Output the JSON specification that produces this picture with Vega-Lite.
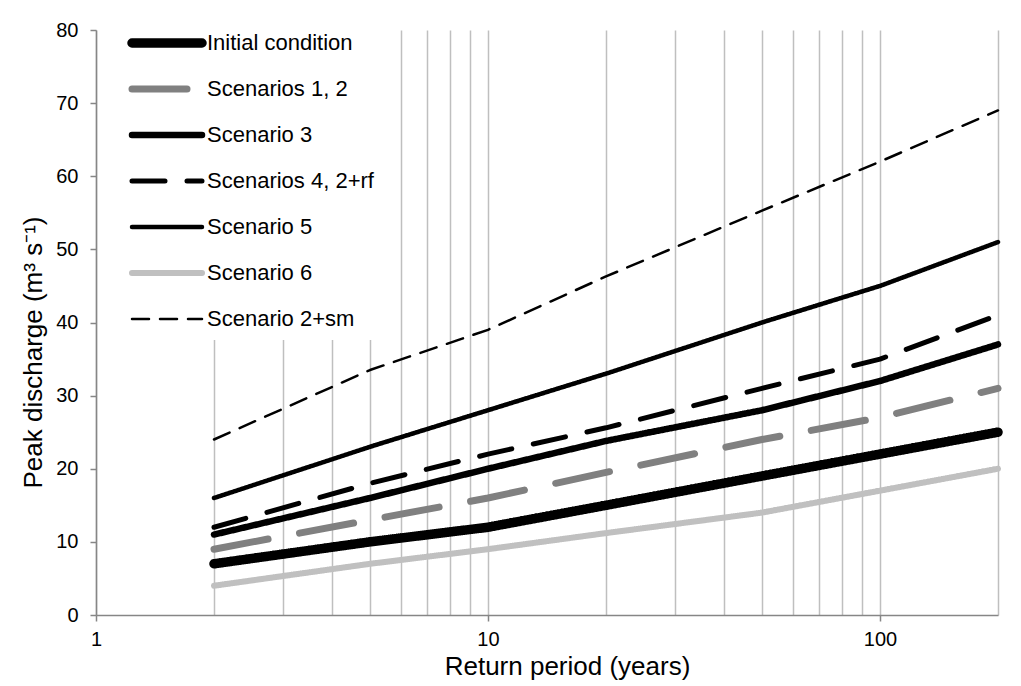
{
  "$schema": "https://vega.github.io/schema/vega-lite/v6.json",
  "width": 902,
  "height": 585,
  "autosize": {"type": "none"},
  "padding": {"left": 96, "top": 30, "right": 23, "bottom": 71},
  "background": "white",
  "config": {"view": {"stroke": null}, "font": "Liberation Sans"},
  "data": {
    "values": [
      {"series": "Initial condition", "T": 2, "Q": 7},
      {"series": "Initial condition", "T": 5, "Q": 10},
      {"series": "Initial condition", "T": 10, "Q": 12},
      {"series": "Initial condition", "T": 20, "Q": 15},
      {"series": "Initial condition", "T": 50, "Q": 19},
      {"series": "Initial condition", "T": 100, "Q": 22},
      {"series": "Initial condition", "T": 200, "Q": 25},
      {"series": "Scenarios 1, 2", "T": 2, "Q": 9},
      {"series": "Scenarios 1, 2", "T": 5, "Q": 13},
      {"series": "Scenarios 1, 2", "T": 10, "Q": 16},
      {"series": "Scenarios 1, 2", "T": 20, "Q": 19.5},
      {"series": "Scenarios 1, 2", "T": 50, "Q": 24},
      {"series": "Scenarios 1, 2", "T": 100, "Q": 27},
      {"series": "Scenarios 1, 2", "T": 200, "Q": 31},
      {"series": "Scenario 3", "T": 2, "Q": 11},
      {"series": "Scenario 3", "T": 5, "Q": 16},
      {"series": "Scenario 3", "T": 10, "Q": 20},
      {"series": "Scenario 3", "T": 20, "Q": 23.8},
      {"series": "Scenario 3", "T": 50, "Q": 28},
      {"series": "Scenario 3", "T": 100, "Q": 32},
      {"series": "Scenario 3", "T": 200, "Q": 37},
      {"series": "Scenarios 4, 2+rf", "T": 2, "Q": 12},
      {"series": "Scenarios 4, 2+rf", "T": 5, "Q": 18},
      {"series": "Scenarios 4, 2+rf", "T": 10, "Q": 22},
      {"series": "Scenarios 4, 2+rf", "T": 20, "Q": 25.6},
      {"series": "Scenarios 4, 2+rf", "T": 50, "Q": 31},
      {"series": "Scenarios 4, 2+rf", "T": 100, "Q": 35},
      {"series": "Scenarios 4, 2+rf", "T": 200, "Q": 41},
      {"series": "Scenario 5", "T": 2, "Q": 16},
      {"series": "Scenario 5", "T": 5, "Q": 23},
      {"series": "Scenario 5", "T": 10, "Q": 28},
      {"series": "Scenario 5", "T": 20, "Q": 33},
      {"series": "Scenario 5", "T": 50, "Q": 40},
      {"series": "Scenario 5", "T": 100, "Q": 45},
      {"series": "Scenario 5", "T": 200, "Q": 51},
      {"series": "Scenario 6", "T": 2, "Q": 4},
      {"series": "Scenario 6", "T": 5, "Q": 7},
      {"series": "Scenario 6", "T": 10, "Q": 9},
      {"series": "Scenario 6", "T": 20, "Q": 11.2},
      {"series": "Scenario 6", "T": 50, "Q": 14},
      {"series": "Scenario 6", "T": 100, "Q": 17},
      {"series": "Scenario 6", "T": 200, "Q": 20},
      {"series": "Scenario 2+sm", "T": 2, "Q": 24},
      {"series": "Scenario 2+sm", "T": 5, "Q": 33.5},
      {"series": "Scenario 2+sm", "T": 10, "Q": 39},
      {"series": "Scenario 2+sm", "T": 20, "Q": 46.3},
      {"series": "Scenario 2+sm", "T": 50, "Q": 55.3},
      {"series": "Scenario 2+sm", "T": 100, "Q": 62},
      {"series": "Scenario 2+sm", "T": 200, "Q": 69}
    ]
  },
  "mark": {"type": "line", "strokeCap": "round", "strokeJoin": "round"},
  "encoding": {
    "x": {
      "field": "T",
      "type": "quantitative",
      "scale": {"type": "log", "domain": [1, 200], "nice": false},
      "axis": {
        "title": "Return period (years)",
        "values": [1, 2, 3, 4, 5, 6, 7, 8, 9, 10, 20, 30, 40, 50, 60, 70, 80, 90, 100, 200],
        "format": "d",
        "labelExpr": "datum.value == 1 || datum.value == 10 || datum.value == 100 ? datum.label : ''",
        "grid": true,
        "gridColor": "#bfbfbf",
        "gridWidth": 1.5,
        "tickOpacity": {"condition": {"test": "datum.value == 1 || datum.value == 10 || datum.value == 100", "value": 1}, "value": 0},
        "tickSize": 6,
        "tickColor": "#868686",
        "tickWidth": 1.5,
        "domainColor": "#868686",
        "domainWidth": 1.5,
        "labelFontSize": 20,
        "labelColor": "black",
        "labelPadding": 8,
        "labelOverlap": false,
        "labelFlush": false,
        "titleFontSize": 26,
        "titleFontWeight": "normal",
        "titleColor": "black",
        "titlePadding": 4,
        "titleX": 471
      }
    },
    "y": {
      "field": "Q",
      "type": "quantitative",
      "scale": {"domain": [0, 80], "nice": false},
      "axis": {
        "title": "Peak discharge (m³ s⁻¹)",
        "values": [0, 10, 20, 30, 40, 50, 60, 70, 80],
        "grid": false,
        "tickSize": 6,
        "tickColor": "#868686",
        "tickWidth": 1.5,
        "domainColor": "#868686",
        "domainWidth": 1.5,
        "labelFontSize": 20,
        "labelColor": "black",
        "labelPadding": 12,
        "titleFontSize": 26,
        "titleFontWeight": "normal",
        "titleColor": "black",
        "titlePadding": 9,
        "titleY": 322
      }
    },
    "color": {
      "field": "series",
      "type": "nominal",
      "scale": {
        "domain": ["Initial condition", "Scenarios 1, 2", "Scenario 3", "Scenarios 4, 2+rf", "Scenario 5", "Scenario 6", "Scenario 2+sm"],
        "range": ["#000000", "#808080", "#000000", "#000000", "#000000", "#c0c0c0", "#000000"]
      },
      "legend": {
        "title": null,
        "orient": "none",
        "direction": "vertical",
        "legendX": 21,
        "legendY": -7,
        "padding": 10,
        "fillColor": "white",
        "symbolType": "stroke",
        "symbolSize": 4900,
        "clipHeight": 20,
        "rowPadding": 24,
        "labelFont": "Liberation Sans",
        "labelFontSize": 22,
        "labelColor": "black",
        "labelOffset": 0,
        "labelLimit": 400,
        "encode": {"symbols": {"update": {"strokeCap": {"value": "round"}}}}
      }
    },
    "strokeWidth": {
      "field": "series",
      "type": "nominal",
      "scale": {
        "type": "ordinal",
        "domain": ["Initial condition", "Scenarios 1, 2", "Scenario 3", "Scenarios 4, 2+rf", "Scenario 5", "Scenario 6", "Scenario 2+sm"],
        "range": [9.5, 7, 6.5, 5, 4.5, 6, 2.5]
      }
    },
    "strokeDash": {
      "field": "series",
      "type": "nominal",
      "scale": {
        "domain": ["Initial condition", "Scenarios 1, 2", "Scenario 3", "Scenarios 4, 2+rf", "Scenario 5", "Scenario 6", "Scenario 2+sm"],
        "range": [[1, 0], [55, 32], [1, 0], [33, 22], [1, 0], [1, 0], [17, 11]]
      }
    }
  }
}
